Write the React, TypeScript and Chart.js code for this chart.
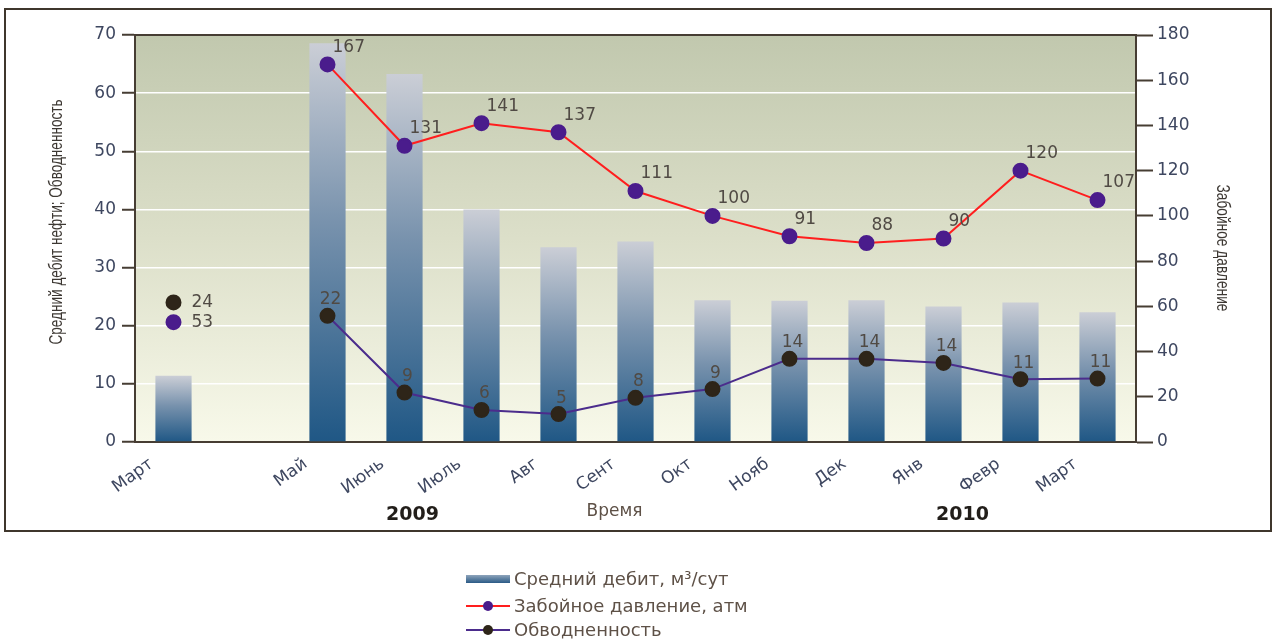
import { useEffect, useRef } from 'react';
import { Chart, registerables } from 'chart.js';

Chart.register(...registerables);

const categories = ['Март', '', 'Май', 'Июнь', 'Июль', 'Авг', 'Сент', 'Окт', 'Нояб', 'Дек', 'Янв', 'Февр', 'Март'];
const avgRate = [11.4, null, 68.6, 63.3, 40.0, 33.5, 34.5, 24.4, 24.3, 24.4, 23.3, 24.0, 22.3];
const pressure = [53, null, 167, 131, 141, 137, 111, 100, 91, 88, 90, 120, 107];
const watercut = [24, null, 21.7, 8.5, 5.5, 4.8, 7.6, 9.1, 14.3, 14.3, 13.6, 10.8, 10.9];
const yearLabels = ['2009', '2010'];
const yearCategoryIndex = [3, 10];
const leftTitle = 'Средний дебит нефти; Обводненность';
const rightTitle = 'Забойное давление';
const xTitle = 'Время';

const SANS = "'DejaVu Sans', 'Liberation Sans', sans-serif";
const ARIAL = "'Liberation Sans', Arial, sans-serif";
const AXIS = '#463d33';
const TICK_TXT = '#3e4760';

function drawCondensedVertical(ctx: any, text: string, cx: number, cy: number, rot: number, len: number) {
  ctx.save();
  ctx.font = `18px ${ARIAL}`;
  const w = ctx.measureText(text).width;
  ctx.translate(cx, cy);
  ctx.rotate(rot);
  ctx.scale(len / w, 1);
  ctx.textAlign = 'center';
  ctx.textBaseline = 'middle';
  ctx.fillStyle = '#3d3833';
  ctx.fillText(text, 0, 0);
  ctx.restore();
}

const decorPlugin = {
  id: 'decor',
  beforeDraw(chart: any) {
    const { ctx, chartArea: a, width } = chart;
    ctx.save();
    ctx.strokeStyle = '#3f362c';
    ctx.lineWidth = 2;
    ctx.strokeRect(5, 9, width - 12, 522);
    const g = ctx.createLinearGradient(0, a.top, 0, a.bottom);
    g.addColorStop(0, '#c1c8ae');
    g.addColorStop(0.5, '#dcdfc9');
    g.addColorStop(1, '#f8f9ea');
    ctx.fillStyle = g;
    ctx.fillRect(a.left, a.top, a.right - a.left, a.bottom - a.top);
    ctx.restore();
  },
  afterDatasetsDraw(chart: any) {
    const { ctx } = chart;
    ctx.save();
    ctx.font = `17px ${SANS}`;
    ctx.fillStyle = '#504a44';
    ctx.textBaseline = 'middle';
    chart.data.datasets.forEach((ds: any, di: number) => {
      if (ds.type !== 'line') return;
      const meta = chart.getDatasetMeta(di);
      meta.data.forEach((pt: any, i: number) => {
        const v = ds.data[i];
        if (v == null) return;
        const txt = String(Math.round(v));
        if (i === 0) {
          ctx.textAlign = 'left';
          ctx.fillText(txt, pt.x + 18, pt.y);
        } else if (ds.yAxisID === 'y1') {
          ctx.textAlign = 'left';
          ctx.fillText(txt, pt.x + 5, pt.y - 17);
        } else {
          ctx.textAlign = 'center';
          ctx.fillText(txt, pt.x + 3, pt.y - 16);
        }
      });
    });
    ctx.restore();
  },
  afterDraw(chart: any) {
    const { ctx, chartArea: a } = chart;
    const xs = chart.scales.x;
    ctx.save();
    ctx.strokeStyle = AXIS;
    ctx.lineWidth = 2;
    ctx.beginPath();
    ctx.moveTo(a.left, a.top);
    ctx.lineTo(a.right, a.top);
    ctx.stroke();
    // axis titles
    drawCondensedVertical(ctx, leftTitle, 57, 222, -Math.PI / 2, 245);
    drawCondensedVertical(ctx, rightTitle, 1222, 248, Math.PI / 2, 127);
    // years
    ctx.fillStyle = '#221e1a';
    ctx.font = `bold 19px ${SANS}`;
    ctx.textAlign = 'center';
    ctx.textBaseline = 'middle';
    const yearOffsets = [8, 19];
    yearLabels.forEach((t, k) => {
      ctx.fillText(t, xs.getPixelForValue(yearCategoryIndex[k]) + yearOffsets[k], 515);
    });
    ctx.fillStyle = '#5e5147';
    ctx.font = `17px ${SANS}`;
    ctx.fillText(xTitle, (a.left + a.right) / 2 - 21, 512);
    // legend
    const lx = 466, lw = 44, tx = 514;
    const rows = [579, 606, 630];
    ctx.textAlign = 'left';
    ctx.font = `18px ${SANS}`;
    chart.data.datasets.forEach((ds: any, di: number) => {
      const y = rows[di];
      if (ds.type === 'bar') {
        const g = ctx.createLinearGradient(0, y - 4, 0, y + 4);
        g.addColorStop(0, '#8ea4bb');
        g.addColorStop(1, '#2a5a86');
        ctx.fillStyle = g;
        ctx.fillRect(lx, y - 4, lw, 8);
      } else {
        ctx.strokeStyle = ds.borderColor;
        ctx.lineWidth = 2;
        ctx.beginPath();
        ctx.moveTo(lx, y);
        ctx.lineTo(lx + lw, y);
        ctx.stroke();
        ctx.fillStyle = ds.pointBackgroundColor;
        ctx.beginPath();
        ctx.arc(lx + lw / 2, y, 5, 0, Math.PI * 2);
        ctx.fill();
      }
      ctx.fillStyle = '#5e5147';
      ctx.fillText(ds.label, tx, y + 1);
    });
    ctx.restore();
  },
};

export default function App() {
  const ref = useRef<HTMLCanvasElement | null>(null);
  useEffect(() => {
    if (!ref.current) return;
    const chart = new Chart(ref.current, {
      type: 'bar',
      data: {
        labels: categories,
        datasets: [
          {
            type: 'bar',
            label: 'Средний дебит, м³/сут',
            data: avgRate,
            yAxisID: 'y',
            order: 3,
            barPercentage: 0.47,
            categoryPercentage: 1,
            backgroundColor: (c: any) => {
              const ch = c.chart;
              const ys = ch.scales && ch.scales.y;
              if (!ch.chartArea || c.raw == null || !ys) return '#4a7099';
              const top = ys.getPixelForValue(c.raw);
              const base = ys.getPixelForValue(0);
              const g = ch.ctx.createLinearGradient(0, top, 0, base);
              g.addColorStop(0, '#cbced6');
              g.addColorStop(0.45, '#7892ad');
              g.addColorStop(1, '#1f5785');
              return g;
            },
          } as any,
          {
            type: 'line',
            label: 'Забойное давление, атм',
            data: pressure,
            yAxisID: 'y1',
            order: 1,
            borderColor: '#ff1e1e',
            borderWidth: 2,
            pointBackgroundColor: '#4a1c8c',
            pointBorderColor: '#4a1c8c',
            pointRadius: 7,
            tension: 0,
            spanGaps: false,
          } as any,
          {
            type: 'line',
            label: 'Обводненность',
            data: watercut,
            yAxisID: 'y',
            order: 2,
            borderColor: '#4b2c8c',
            borderWidth: 2,
            pointBackgroundColor: '#2e2519',
            pointBorderColor: '#2e2519',
            pointRadius: 7,
            tension: 0,
            spanGaps: false,
          } as any,
        ],
      },
      options: {
        animation: false,
        responsive: false,
        layout: { padding: { top: 35, left: 0, right: 0, bottom: 0 } },
        plugins: { legend: { display: false }, tooltip: { enabled: false } },
        scales: {
          x: {
            offset: true,
            grid: { display: false, drawTicks: false },
            border: { display: true, color: AXIS, width: 2 },
            ticks: {
              autoSkip: false,
              minRotation: 36,
              maxRotation: 36,
              labelOffset: -22,
              padding: 12,
              color: TICK_TXT,
              font: { family: SANS, size: 17 },
            },
            afterFit: (s: any) => { s.height = 197; },
          },
          y: {
            position: 'left',
            min: 0,
            max: 70,
            ticks: { stepSize: 10, color: TICK_TXT, padding: 6, font: { family: SANS, size: 17 } },
            grid: { color: '#ffffff', lineWidth: 1.5, tickColor: AXIS, tickLength: 13, tickWidth: 2 },
            border: { display: true, color: AXIS, width: 2 },
            afterFit: (s: any) => { s.width = 135; },
          },
          y1: {
            position: 'right',
            min: 0,
            max: 180,
            ticks: { stepSize: 20, color: TICK_TXT, padding: 4, font: { family: SANS, size: 17 } },
            grid: { drawOnChartArea: false, color: AXIS, tickColor: AXIS, tickLength: 17, tickWidth: 2 },
            border: { display: true, color: AXIS, width: 2 },
            afterFit: (s: any) => { s.width = 142; },
          },
        },
      },
      plugins: [decorPlugin],
    } as any);
    return () => chart.destroy();
  }, []);
  return (
    <div style={{ position: 'fixed', left: 0, top: 0, width: 1278, height: 639, background: '#fff' }}>
      <canvas ref={ref} width={1278} height={639} style={{ display: 'block' }} />
    </div>
  );
}
